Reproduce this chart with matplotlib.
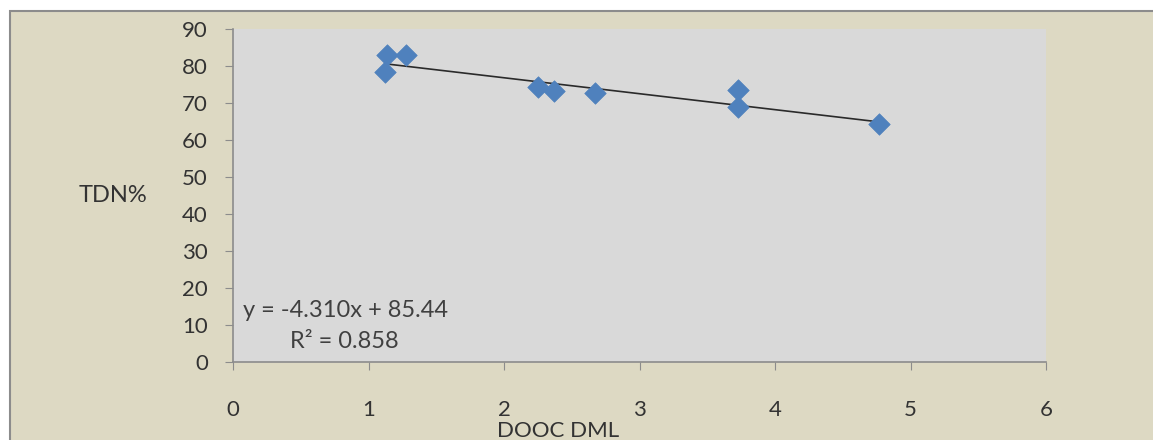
import matplotlib
matplotlib.use("Agg")
import matplotlib.pyplot as plt
from matplotlib.patches import Rectangle
import numpy as np

# Data
dooc_dml = [1.12, 1.14, 1.28, 2.25, 2.37, 2.67, 3.73, 3.73, 4.77]
tdn_pct = [78.4, 83.0, 83.0, 74.3, 73.2, 72.7, 73.5, 68.9, 64.3]
slope, intercept = -4.310, 85.44
r2 = 0.858
x_ticks = [0, 1, 2, 3, 4, 5, 6]
y_ticks = [0, 10, 20, 30, 40, 50, 60, 70, 80, 90]

plt.rcParams['font.family'] = ['Lato', 'DejaVu Sans']

W, H = 1153, 440
fig = plt.figure(figsize=(W / 100, H / 100), dpi=100)
fig.patch.set_facecolor('white')

# chart area background with border
bg = Rectangle((10 / W, -0.2), 1.2, 1.2 - 11 / H, transform=fig.transFigure,
               facecolor='#ddd9c3', edgecolor='#8c8c8c', linewidth=1.5, zorder=0)
fig.patches.append(bg)

left, right = 233 / W, 1046 / W
bottom, top = 1 - 362 / H, 1 - 29 / H
ax = fig.add_axes([left, bottom, right - left, top - bottom])
ax.set_zorder(2)
ax.set_facecolor('#d9d9d9')
ax.set_xlim(0, 6)
ax.set_ylim(0, 90)

ax.scatter(dooc_dml, tdn_pct, marker='D', s=120, color='#4f81bd', zorder=3,
           edgecolors='#4f81bd', linewidths=0.5)
xl = np.array([min(dooc_dml), max(dooc_dml)])
ax.plot(xl, slope * xl + intercept, color='#2a2a2a', linewidth=1.2, zorder=2)

for s in ['top', 'right']:
    ax.spines[s].set_visible(False)
for s in ['left', 'bottom']:
    ax.spines[s].set_color('#8c8c8c')
    ax.spines[s].set_linewidth(1.2)

ax.set_xticks(x_ticks)
ax.set_yticks(y_ticks)
ax.tick_params(axis='x', direction='out', length=6, color='#8c8c8c', pad=21,
               labelsize=16, labelcolor='#333333')
ax.tick_params(axis='y', direction='out', length=6, color='#8c8c8c', pad=12,
               labelsize=16, labelcolor='#333333')

fig.text(113 / W, 1 - 195 / H, 'TDN%', fontsize=17, color='#333333',
         ha='center', va='center')
fig.text(558 / W, 1 - 437 / H, 'DOOC DML', fontsize=16, color='#333333',
         ha='center', va='baseline')

fig.text(243 / W, 1 - 310 / H, f'y = {slope:.3f}x + {intercept:.2f}', fontsize=17,
         color='#404040', ha='left', va='center')
fig.text(290 / W, 1 - 341 / H, f'R² = {r2:.3f}', fontsize=17,
         color='#404040', ha='left', va='center')

fig.savefig('out.png', dpi=100, facecolor=fig.get_facecolor())
